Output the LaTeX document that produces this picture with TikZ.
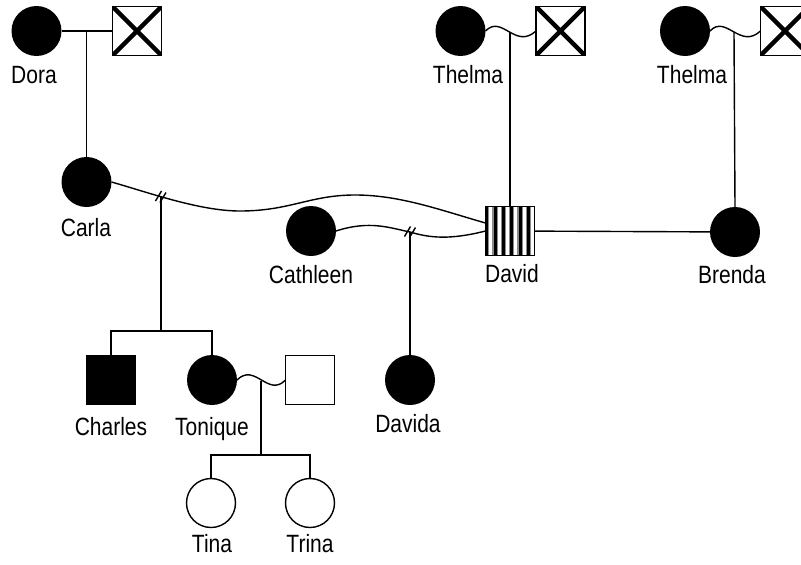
\documentclass[tikz,border=0pt]{standalone}
\usepackage{fontspec}
\setmainfont[FakeStretch=0.84]{Liberation Sans}
\begin{document}
\begin{tikzpicture}[x=1pt,y=-1pt,
  every node/.style={inner sep=0pt, outer sep=0pt},
  line/.style={line width=1.4pt},
  fem/.style={circle, minimum size=50pt, fill=black},
  femo/.style={circle, minimum size=49pt, draw, line width=1.4pt, fill=white},
  malesq/.style={rectangle, minimum size=49pt, draw, line width=1.4pt},
  malefill/.style={malesq, fill=black},
  malex/.style={malesq, path picture={\draw[line width=4.5pt]
      (path picture bounding box.north west) -- (path picture bounding box.south east)
      (path picture bounding box.south west) -- (path picture bounding box.north east);}},
  lbl/.style={anchor=base, font=\fontsize{25}{30}\selectfont},
  hash/.style={line width=1.4pt}
]
\useasboundingbox (0,0) rectangle (801,565);

% nodes
\node[fem] (dora) at (36.5,31) {};
\node[malex] (doram) at (137,31) {};
\node[lbl] (doral) at (34,83) {Dora};

\node[fem] (carla) at (86.5,182) {};
\node[lbl] (carlal) at (86,236) {Carla};

\node[fem] (th1) at (460.5,31) {};
\node[malex] (th1m) at (560.5,31) {};
\node[lbl] (th1l) at (468,83) {Thelma};

\node[fem] (th2) at (685,31) {};
\node[malex] (th2m) at (785,31) {};
\node[lbl] (th2l) at (692,83) {Thelma};

\node[malesq] (david) at (510,231) {};
\node[lbl] (davidl) at (512,282) {David};

\node[fem] (brenda) at (735,232) {};
\node[lbl] (brendal) at (732,283) {Brenda};

\node[fem] (cathleen) at (311,231) {};
\node[lbl] (cathleenl) at (311,283) {Cathleen};

\node[malefill] (charles) at (111,380) {};
\node[lbl] (charlesl) at (111,435) {Charles};

\node[fem] (tonique) at (212,380) {};
\node[lbl] (toniquel) at (212,435) {Tonique};

\node[malesq] (tsp) at (310,380) {};

\node[fem] (davida) at (410,380) {};
\node[lbl] (davidal) at (408,432) {Davida};

\node[femo] (tina) at (211,503) {};
\node[lbl] (tinal) at (212,552) {Tina};

\node[femo] (trina) at (310,503) {};
\node[lbl] (trinal) at (310,552) {Trina};

% David stripes (solid bars with grey edges)
\begin{scope}
  \clip (david.north west) rectangle (david.south east);
  \foreach \i in {0,...,6} {
    \pgfmathsetmacro{\xa}{485.5+1.2+\i*8.333-2.6}
    \pgfmathsetmacro{\xb}{485.5+1.2+\i*8.333-1.5}
    \pgfmathsetmacro{\xc}{485.5+1.2+\i*8.333+1.5}
    \pgfmathsetmacro{\xd}{485.5+1.2+\i*8.333+2.6}
    \fill[black!45] (\xa,206.5) rectangle (\xd,255.5);
    \fill[black] (\xb,206.5) rectangle (\xc,255.5);
  }
\end{scope}
\node[malesq] at (david) {};

% junction coordinates
\coordinate (j1) at (86.5,31);
\coordinate (c1) at (161,196);
\coordinate (s1) at (161,331);
\coordinate (c2) at (410,232);
\coordinate (t1) at (510,32);
\coordinate (t2) at (734,32);
\coordinate (t3) at (261,381);
\coordinate (s3) at (261,455);

% Dora couple
\draw[line] (dora) -- (doram);
\draw[line] (j1) -- (carla);

% Thelma couples
\draw[line] (th1.east) .. controls (502,14) and (515,50) .. (th1m.west);
\draw[line] (t1) -- (david);
\draw[line] (th2.east) .. controls (726,14) and (740,50) .. (th2m.west);
\draw[line] (t2) -- (brenda.north);

% David - Brenda
\draw[line] (david) -- (brenda);

% Carla - David
\draw[line] (carla.east) .. controls (150,193) and (200,211) .. (240,211)
  .. controls (290,211) and (310,195) .. (355,195)
  .. controls (400,195) and (440,210) .. ([yshift=8pt]david.west);
\draw[hash] ([shift={(-2.5,0)}]c1) ++(-3,5) -- ++(6,-10);
\draw[hash] ([shift={(2,1.5)}]c1) ++(-3,5) -- ++(6,-10);
\draw[line] (c1) -- (s1);
\draw[line] (charles) |- (s1);
\draw[line] (tonique) |- (s1);

% Cathleen - David
\draw[line] (cathleen.east) .. controls (370,220) and (390,228) .. (c2)
  .. controls (430,238) and (450,240) .. (david.west);
\draw[hash] ([shift={(-2.5,-0.5)}]c2) ++(-3,5) -- ++(6,-10);
\draw[hash] ([shift={(2.5,0.5)}]c2) ++(-3,5) -- ++(6,-10);
\draw[line] (c2) -- (davida);

% Tonique couple
\draw[line] (tonique.east) .. controls (255,362) and (268,398) .. (tsp.west);
\draw[line] (t3) -- (s3);
\draw[line] (tina) |- (s3);
\draw[line] (trina) |- (s3);
\end{tikzpicture}
\end{document}
